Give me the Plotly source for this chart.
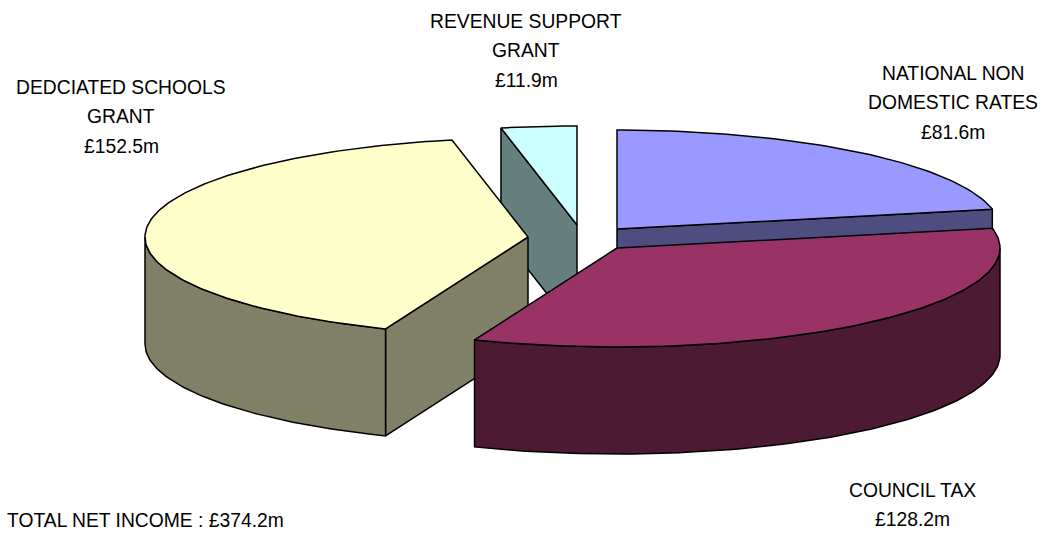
import math
import plotly.graph_objects as go

# Income sources, in millions of pounds, clockwise from twelve o'clock
categories = ["NATIONAL NON DOMESTIC RATES", "COUNCIL TAX", "DEDCIATED SCHOOLS GRANT", "REVENUE SUPPORT GRANT"]
values = [81.6, 128.2, 152.5, 11.9]
label_lines = [
    ["NATIONAL NON", "DOMESTIC RATES", "£81.6m"],
    ["COUNCIL TAX", "£128.2m"],
    ["DEDCIATED SCHOOLS", "GRANT", "£152.5m"],
    ["REVENUE SUPPORT", "GRANT", "£11.9m"],
]
total_text = "TOTAL NET INCOME : £374.2m"

# Look of each wedge: top colour, side colour, exploded apex position
top_colors = ["#9999FF", "#993366", "#FFFFCC", "#CCFFFF"]
side_colors = ["#4D4D80", "#4D1A33", "#808066", "#668080"]
apexes = [(617, 229), (617, 248), (528, 237), (577, 225)]
# Centre x and first-line y of each label
label_anchors = [(953, 73), (912, 490), (121, 87), (526, 21)]
LINE_STEP = 29.5

RX, RY, DEPTH = 383, 99, 107
LINE = dict(color="black", width=1.5)
FONT = dict(family="Liberation Sans, Arial, sans-serif", size=19.3, color="black")


def rim(apex, deg, drop=0):
    t = math.radians(deg)
    return apex[0] + RX * math.sin(t), apex[1] - RY * math.cos(t) + drop


def arc(apex, start, end, drop=0):
    n = max(2, int(abs(end - start)) + 1)
    return [rim(apex, start + (end - start) * i / (n - 1), drop) for i in range(n)]


def polygon(fig, pts, color, name):
    fig.add_trace(go.Scatter(
        x=[p[0] for p in pts] + [pts[0][0]],
        y=[p[1] for p in pts] + [pts[0][1]],
        mode="lines", fill="toself", fillcolor=color, line=LINE,
        name=name, hoverinfo="name", showlegend=False,
    ))


def cut_face(apex, deg):
    a, b = apex, rim(apex, deg)
    return [a, b, (b[0], b[1] + DEPTH), (a[0], a[1] + DEPTH)]


total = sum(values)
spans = []
running = 0.0
for v in values:
    spans.append((running, running + v / total * 360))
    running += v / total * 360

fig = go.Figure()

# Painted back to front: rates, support grant, schools grant, council tax
for i in [0, 3, 2, 1]:
    start, end = spans[i]
    apex = apexes[i]
    name = categories[i]
    # radial cut faces that turn towards the viewer
    if i == 0:
        polygon(fig, cut_face(apex, end), side_colors[i], name)
    if i in (2, 3):
        polygon(fig, cut_face(apex, start), side_colors[i], name)
    # curved outer wall, only on the front half of the rim
    lo, hi = max(start, 90), min(end, 270)
    if lo < hi:
        polygon(fig, arc(apex, lo, hi) + arc(apex, hi, lo, DEPTH), side_colors[i], name)
    # top surface
    polygon(fig, [apex] + arc(apex, start, end), top_colors[i], name)

# One annotation per text line keeps the wide line spacing
for lines, (x, y) in zip(label_lines, label_anchors):
    for k, line in enumerate(lines):
        fig.add_annotation(x=x, y=y + k * LINE_STEP, text=line, showarrow=False,
                           font=FONT, xanchor="center", yanchor="middle")
fig.add_annotation(x=5, y=520, text=total_text, showarrow=False, font=FONT,
                   xanchor="left", yanchor="middle")

fig.update_layout(
    width=1042, height=533, margin=dict(l=0, r=0, t=0, b=0),
    paper_bgcolor="white", plot_bgcolor="white", showlegend=False,
    xaxis=dict(range=[0, 1042], visible=False, fixedrange=True),
    yaxis=dict(range=[533, 0], visible=False, fixedrange=True),
)
fig.write_html("out.html", config=dict(displayModeBar=False))
